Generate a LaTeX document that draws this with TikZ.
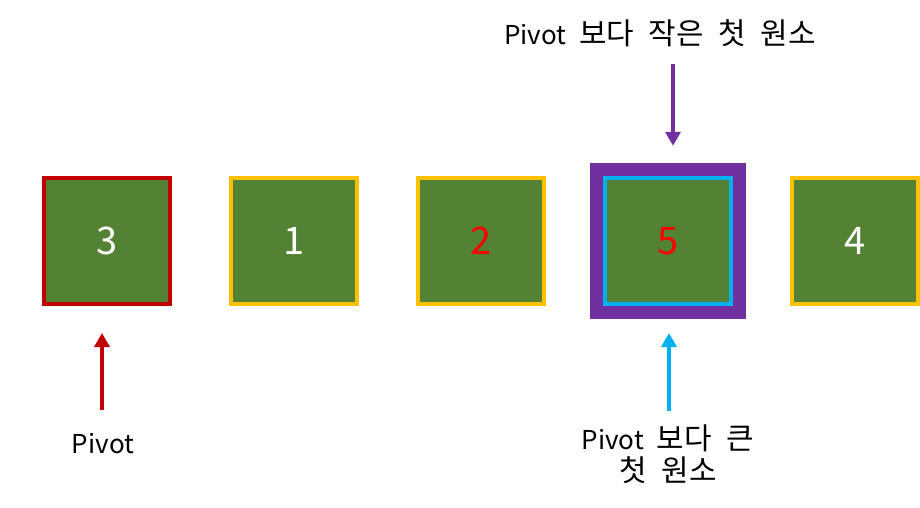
\documentclass[tikz,border=0pt]{standalone}
\usepackage{fontspec}
\setmainfont{Noto Sans CJK KR}
\newfontfamily\labfont[WordSpace=2.2]{Noto Sans CJK KR}
\newfontfamily\hanfont[Scale=1.15,WordSpace=2.2]{Noto Sans CJK KR}
\usetikzlibrary{arrows.meta,positioning,backgrounds}
\definecolor{cellgreen}{HTML}{548235}
\definecolor{pivred}{HTML}{C00000}
\definecolor{elemyellow}{HTML}{FFC000}
\definecolor{selpurple}{HTML}{7030A0}
\definecolor{bigcyan}{HTML}{00B0F0}
\definecolor{numred}{HTML}{FF0000}

\begin{document}
\begin{tikzpicture}[x=1pt,y=1pt,node distance=57pt,
  >={Triangle[length=14pt,width=15pt]},
  cell/.style={draw,line width=4pt,fill=cellgreen,minimum size=126pt,
    inner sep=0pt,text=white,font=\fontsize{38}{40}\selectfont},
  elem/.style={cell,draw=elemyellow},
  pivbox/.style={cell,draw=pivred},
  bigbox/.style={cell,draw=bigcyan},
  lab/.style={font=\labfont\fontsize{26}{32}\selectfont,
    inner sep=0pt,align=center},
  ptr/.style={line width=4.5pt}]
\useasboundingbox (0,0) rectangle (920,-508);
\node[pivbox] (b1) at (107,-241) {3};
\node[elem,right=of b1] (b2) {1};
\node[elem,right=of b2,text=numred] (b3) {2};
\node[bigbox,right=of b3,text=numred] (b4) {5};
\node[elem,right=of b4] (b5) {4};
\begin{scope}[on background layer]
  \node[fill=selpurple,minimum size=156pt,inner sep=0pt] (sel) at (b4) {};
\end{scope}
\node[lab] (small) at (660,-33) {Pivot {\hanfont 보다 작은 첫 원소}};
\node[lab] (piv) at (103,-444) {Pivot};
\node[lab] (big) at (668,-454) {Pivot {\hanfont 보다 큰}\\{\hanfont 첫 원소}};
\draw[ptr,selpurple,->] ([xshift=13pt,yshift=-31pt]small.center) -- ([xshift=5pt,yshift=17pt]sel.north);
\draw[ptr,pivred,->] ([xshift=-1pt,yshift=34pt]piv.center) -- ([xshift=-5pt,yshift=-27pt]b1.south);
\draw[ptr,bigcyan,->] ([xshift=1pt,yshift=43pt]big.center) -- ([xshift=1pt,yshift=-27pt]b4.south);
\end{tikzpicture}
\end{document}
